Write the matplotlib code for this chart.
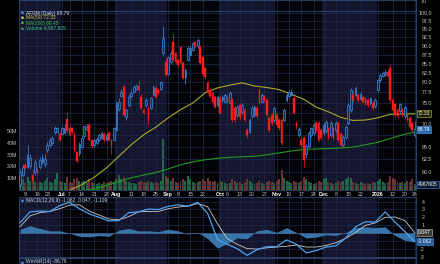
import numpy as np
import pandas as pd
import matplotlib
matplotlib.use('Agg')
import matplotlib.pyplot as plt
from matplotlib.ticker import NullLocator

plt.rcParams['font.family'] = ['Liberation Sans', 'DejaVu Sans']

# trading days on the chart (NYSE holidays removed)
holidays = ['2025-06-19', '2025-07-04', '2025-09-01', '2025-11-27',
            '2025-12-25', '2026-01-01', '2026-01-19']
dates = pd.date_range('2025-06-05', '2026-01-26',
                      freq=pd.offsets.CustomBusinessDay(holidays=holidays))

# daily candles
opens = [57.5, 59.4, 61.4, 61.0, 61.2, 59.4, 60.0, 60.4, 61.0, 62.0,
         61.5, 64.4, 65.4, 65.8, 68.2, 68.2, 67.8, 67.8, 68.0, 71.1,
         69.0, 69.0, 67.8, 64.0, 63.8, 65.0, 67.3, 68.8, 69.8, 66.5,
         65.4, 65.8, 66.6, 67.0, 67.8, 66.6, 68.0, 66.5, 66.5, 68.7,
         73.5, 76.7, 78.8, 71.5, 74.4, 76.7, 77.7, 78.3, 79.0, 76.4,
         73.2, 74.4, 73.8, 73.8, 76.9, 78.5, 78.1, 78.3, 88.0, 85.4,
         82.3, 85.4, 91.1, 88.0, 86.0, 89.6, 85.2, 81.4, 86.0, 87.4,
         88.8, 91.1, 89.8, 89.6, 86.8, 83.7, 79.9, 78.1, 77.4, 76.4,
         74.4, 76.1, 75.6, 75.2, 76.4, 75.0, 75.6, 73.8, 72.1, 74.4,
         72.8, 73.2, 68.7, 68.2, 71.8, 72.1, 73.8, 78.1, 75.2, 76.4,
         75.6, 71.4, 72.1, 70.9, 72.1, 70.9, 70.9, 70.9, 75.6, 76.6,
         76.9, 76.1, 70.2, 67.6, 66.5, 66.9, 63.6, 65.2, 67.6, 68.0,
         70.2, 70.2, 68.7, 68.0, 68.4, 69.0, 67.6, 69.0, 68.7, 70.2,
         67.8, 65.4, 67.1, 70.2, 73.2, 76.9, 76.9, 76.9, 75.9, 76.4,
         76.1, 75.6, 74.9, 75.0, 74.1, 78.1, 80.6, 81.7, 82.2, 82.8,
         83.7, 75.6, 74.6, 73.2, 73.0, 73.2, 71.8, 72.4, 71.4, 70.2,
         67.6]
highs = [60.5, 61.5, 61.8, 65.4, 63.5, 60.5, 62.5, 61.0, 63.0, 63.5,
         63.5, 66.0, 67.0, 67.3, 69.5, 69.3, 68.3, 69.5, 70.0, 72.8,
         69.5, 69.3, 68.2, 64.2, 66.0, 67.3, 69.8, 70.0, 70.3, 66.8,
         67.0, 67.2, 68.0, 68.5, 68.3, 68.0, 68.4, 66.8, 69.3, 75.4,
         76.0, 78.3, 79.5, 73.8, 77.0, 78.0, 79.3, 79.5, 80.6, 77.0,
         73.6, 76.0, 74.0, 76.4, 79.3, 79.0, 78.5, 80.5, 96.0, 86.5,
         87.2, 88.5, 93.5, 88.3, 86.3, 90.0, 85.6, 83.8, 89.8, 89.8,
         91.2, 91.5, 92.2, 90.2, 87.2, 84.2, 80.3, 78.5, 77.8, 76.8,
         76.8, 76.5, 76.8, 77.3, 76.8, 77.8, 76.0, 74.2, 74.4, 74.8,
         74.8, 73.6, 69.0, 71.3, 74.2, 74.4, 74.2, 78.5, 77.3, 76.8,
         76.0, 71.8, 72.5, 74.2, 72.5, 71.3, 71.3, 73.6, 77.3, 78.1,
         78.4, 76.5, 70.6, 69.4, 66.9, 67.3, 65.6, 68.4, 69.4, 70.2,
         70.6, 70.6, 69.1, 70.2, 70.9, 69.4, 70.6, 69.4, 70.6, 70.6,
         68.2, 67.5, 69.8, 74.8, 78.5, 78.0, 79.0, 77.3, 77.6, 76.8,
         76.4, 76.0, 76.4, 75.4, 76.0, 81.0, 82.4, 82.9, 83.4, 83.2,
         84.5, 76.0, 75.0, 73.6, 75.0, 73.6, 74.4, 72.8, 71.8, 70.6,
         70.6]
lows = [57.0, 59.0, 60.5, 60.8, 60.5, 58.0, 59.5, 59.5, 60.5, 61.5,
        61.0, 64.0, 65.0, 65.5, 67.8, 68.0, 66.2, 67.5, 67.8, 68.0,
        67.3, 67.8, 64.0, 61.8, 63.2, 64.8, 67.0, 68.5, 66.2, 64.8,
        65.0, 65.5, 66.2, 66.8, 66.0, 66.2, 66.2, 63.6, 66.2, 68.5,
        73.0, 76.3, 71.8, 71.0, 74.0, 76.3, 77.3, 78.0, 77.6, 73.5,
        72.2, 74.0, 70.0, 73.5, 76.5, 76.0, 77.0, 78.0, 87.5, 81.6,
        82.0, 85.0, 85.6, 85.2, 84.2, 84.8, 80.8, 79.7, 85.6, 87.0,
        88.4, 89.4, 89.4, 84.8, 82.0, 81.0, 77.3, 76.3, 74.8, 73.6,
        74.0, 72.2, 75.2, 74.8, 74.8, 74.6, 70.5, 70.5, 71.7, 71.2,
        72.4, 70.5, 67.0, 67.9, 71.4, 71.7, 71.4, 74.6, 74.8, 75.2,
        71.7, 68.3, 69.8, 70.5, 69.4, 68.6, 65.4, 70.5, 75.2, 76.2,
        76.5, 72.2, 68.9, 67.2, 65.0, 61.0, 62.8, 64.8, 67.2, 67.6,
        68.3, 66.1, 66.5, 67.6, 68.0, 66.7, 67.2, 66.5, 68.3, 66.1,
        65.0, 65.0, 66.7, 69.8, 72.8, 75.2, 76.5, 75.2, 75.5, 74.8,
        74.5, 74.0, 74.5, 73.2, 73.7, 77.7, 80.2, 81.3, 81.8, 81.3,
        75.2, 72.8, 71.7, 71.4, 72.6, 71.7, 71.4, 70.5, 69.0, 68.3,
        67.2]
closes = [60.0, 61.0, 60.8, 63.4, 62.8, 58.5, 62.0, 60.0, 62.4, 62.8,
          62.6, 65.4, 66.5, 66.9, 69.0, 69.0, 66.5, 69.0, 69.2, 68.4,
          67.6, 68.2, 64.4, 62.2, 65.6, 67.0, 69.5, 69.4, 66.5, 65.2,
          66.6, 66.8, 67.6, 68.0, 66.6, 67.6, 66.5, 65.2, 69.0, 74.9,
          75.2, 77.6, 72.1, 73.2, 76.4, 77.4, 78.8, 79.0, 78.0, 73.8,
          72.6, 75.6, 70.9, 76.1, 78.8, 76.4, 77.4, 80.1, 92.3, 82.0,
          86.8, 88.0, 86.0, 85.5, 84.6, 85.2, 81.2, 83.3, 89.3, 89.3,
          90.8, 89.8, 91.7, 85.2, 82.3, 81.4, 77.7, 76.7, 75.2, 74.0,
          76.4, 72.6, 76.4, 76.9, 75.2, 77.4, 70.9, 70.9, 74.0, 71.6,
          74.4, 70.9, 67.6, 70.9, 73.8, 74.0, 71.8, 75.0, 76.9, 75.6,
          72.1, 68.7, 70.2, 73.8, 69.8, 69.0, 65.8, 73.2, 76.9, 77.7,
          77.7, 72.6, 69.3, 68.9, 65.4, 62.4, 65.2, 68.0, 69.0, 69.8,
          68.7, 66.5, 66.9, 69.8, 70.5, 67.1, 70.2, 66.9, 70.2, 66.5,
          65.4, 67.1, 69.4, 74.4, 78.1, 75.6, 78.5, 75.6, 77.2, 75.2,
          74.9, 74.4, 76.1, 73.6, 75.6, 80.6, 82.0, 82.5, 82.8, 81.7,
          75.6, 73.2, 72.1, 71.8, 74.6, 72.1, 74.0, 70.9, 69.4, 68.7,
          68.79]
# volume in millions of shares
volume_m = [12, 9, 6, 11, 8, 9, 7, 6, 7, 6,
            8, 10, 7, 6, 9, 14, 8, 7, 6, 11,
            7, 6, 9, 10, 8, 7, 8, 6, 9, 7,
            6, 5, 6, 5, 7, 6, 7, 8, 7, 9,
            13, 9, 11, 8, 7, 6, 6, 5, 7, 8,
            7, 6, 8, 7, 6, 7, 6, 8, 43, 12,
            10, 8, 10, 7, 6, 8, 9, 8, 12, 9,
            7, 6, 7, 8, 9, 8, 10, 8, 7, 8,
            6, 8, 7, 6, 5, 6, 9, 8, 6, 7,
            5, 7, 9, 8, 6, 5, 6, 8, 6, 5,
            7, 8, 7, 6, 8, 9, 17, 10, 8, 7,
            6, 8, 7, 6, 8, 11, 9, 7, 6, 5,
            6, 8, 7, 9, 10, 7, 6, 5, 6, 8,
            7, 8, 9, 11, 10, 7, 6, 5, 7, 6,
            5, 6, 5, 7, 6, 8, 9, 7, 6, 7,
            12, 10, 9, 7, 6, 7, 6, 8, 7, 9,
            5]

# moving averages, read every 5th session
ma50 = [51.0, 52.3, 53.6, 55.0, 56.6, 57.6, 59.0, 60.8, 63.1, 65.5, 67.6,
        69.3, 71.4, 73.3, 74.9, 77.4, 78.6, 79.3, 79.9, 79.1, 78.7, 78.2,
        77.0, 75.8, 73.9, 72.8, 71.5, 70.8, 70.9, 71.4, 72.2, 72.3, 72.33]
ma200 = [55.0, 55.3, 55.6, 55.9, 56.2, 56.5, 56.8, 57.5, 58.2, 58.9, 59.4,
         59.9, 60.6, 61.4, 62.0, 62.4, 62.7, 62.9, 63.0, 63.1, 63.4, 63.8,
         64.2, 64.5, 64.6, 64.7, 64.8, 65.0, 65.5, 66.0, 66.8, 67.6, 68.2]

# MACD(12,26,9), read every 4th session
macd_line = [1.35, 2.7, 2.8, 2.75, 3.5, 3.9, 3.1, 2.45, 2.0, 1.55, 1.6,
             2.6, 2.7, 3.05, 3.0, 3.4, 3.6, 3.4, 3.9, 2.5, -0.8, -1.4,
             -1.95, -2.8, -2.1, -1.7, -1.7, -0.85, -1.4, -2.5, -2.2, -1.75,
             -1.6, -0.6, 0.8, 1.45, 1.4, 2.7, 1.4, 0.2, -1.06]
macd_signal = [0.85, 2.2, 2.6, 2.75, 3.1, 3.55, 3.6, 2.8, 2.3, 1.8, 1.7,
               2.1, 2.7, 2.75, 2.75, 3.1, 3.3, 3.45, 3.75, 3.35, 1.2, -0.7,
               -1.4, -1.95, -2.0, -1.85, -1.75, -1.65, -1.5, -1.75, -1.75,
               -1.55, -1.2, -0.65, 0.1, 1.0, 1.3, 2.0, 2.05, 1.6, 0.05]
macd_hist = [0.5, 0.95, 0.6, 0.3, 0.3, 0.0, -0.4, -0.45, -0.3, -0.4, 0.4,
             0.6, 0.3, 0.3, 0.2, 0.5, 0.3, -0.1, 0.1, -0.7, -1.9, -1.3,
             -0.6, -0.7, 0.3, 0.5, 0.1, 0.7, 0.1, -0.6, -0.5, -0.2, -0.3,
             0.1, 0.7, 0.8, 0.7, 0.8, -0.3, -0.9, -1.11]

tick_days = ['2025-06-09', '2025-06-16', '2025-06-23', '2025-07-01', '2025-07-07',
             '2025-07-14', '2025-07-21', '2025-07-28', '2025-08-01', '2025-08-11',
             '2025-08-18', '2025-08-25', '2025-09-02', '2025-09-08', '2025-09-15',
             '2025-09-22', '2025-10-01', '2025-10-06', '2025-10-13', '2025-10-20',
             '2025-10-27', '2025-11-03', '2025-11-10', '2025-11-17', '2025-11-24',
             '2025-12-01', '2025-12-08', '2025-12-15', '2025-12-22', '2026-01-02',
             '2026-01-12', '2026-01-20', '2026-01-26']
tick_labels = ['9', '16', '23', 'Jul', '7', '14', '21', '28', 'Aug', '11', '18',
               '25', 'Sep', '8', '15', '22', 'Oct', '6', '13', '20', '27', 'Nov',
               '10', '17', '24', 'Dec', '8', '15', '22', '2026', '12', '20', '26']

NAVY = '#15152e'
DARK = '#040408'
GRID = '#1b2d4a'
EDGE = '#2c4a78'
TXT = '#c4c4c8'
BLUE = '#3d8ee6'
RED = '#ff1c1c'

W, H = 440, 264
L, R = 19, 416
fig = plt.figure(figsize=(W / 100, H / 100), dpi=100, facecolor='black')


def fy(py):
    return 1 - py / H


def panel(top, bottom):
    return fig.add_axes([L / W, 1 - bottom / H, (R - L) / W, (bottom - top) / H])


x = np.arange(len(dates))
month_id = dates.year * 12 + dates.month
starts = np.flatnonzero(np.r_[True, np.diff(month_id) != 0])
bounds = list(starts) + [len(dates)]
tick_pos = [dates.get_loc(pd.Timestamp(d)) for d in tick_days]


def decorate(ax):
    ax.set_facecolor(NAVY)
    ax.set_xlim(-0.5, len(dates) - 0.5)
    for k in range(len(starts)):
        ax.axvspan(bounds[k] - 0.5, bounds[k + 1] - 0.5,
                   color=NAVY if k % 2 == 0 else DARK, lw=0, zorder=0)
    ax.set_xticks(tick_pos)
    ax.grid(axis='x', color=GRID, lw=0.5)
    ax.set_axisbelow(True)
    ax.tick_params(length=0, labelbottom=False, labelleft=False)
    for sp in ax.spines.values():
        sp.set_color(EDGE)
        sp.set_linewidth(0.6)


ax_t = panel(0, 10.5)
ax_v = panel(10.5, 190)
ax_m = panel(197, 257)
ax_b = panel(258, 266)
for ax in (ax_t, ax_v, ax_m, ax_b):
    decorate(ax)
for ax in (ax_t, ax_b):
    ax.set_yticks([])

# volume (left scale)
o, h, l, c = map(np.array, (opens, highs, lows, closes))
up = c >= o
ax_v.bar(x, volume_m, width=0.8, color=np.where(up, '#1f6a44', '#6a3434'),
         lw=0, zorder=2)
ax_v.set_ylim(0, 152)
ax_v.set_yticks([10, 20, 30, 40, 50])
ax_v.set_yticklabels(['10M', '20M', '30M', '40M', '50M'])
ax_v.tick_params(axis='y', labelleft=True, pad=1.4, labelsize=3.8, labelcolor=TXT)
ax_v.tick_params(axis='x', labelbottom=True, pad=1.2, labelsize=3.8, labelcolor=TXT)
ax_v.set_xticklabels(tick_labels)
for t in ax_v.get_xticklabels():
    if not t.get_text().isdigit() or t.get_text() == '2026':
        t.set_fontweight('bold')
        t.set_color('white')

# price (right, log scale); 57.5, 67.5 and 72.5 sit under the value boxes
ax_p = ax_v.twinx()
ax_p.set_yscale('log')
ax_p.set_ylim(56.63, 100.8)
price_ticks = np.arange(57.5, 100.01, 2.5)
hidden = (57.5, 67.5, 72.5)
ax_p.set_yticks(price_ticks)
ax_p.set_yticklabels(['' if v in hidden else f'{v:.1f}' for v in price_ticks])
ax_p.yaxis.set_minor_locator(NullLocator())
ax_p.tick_params(axis='y', length=0, pad=11.5, labelsize=3.8, labelcolor=TXT)
for t in ax_p.get_yticklabels():
    t.set_ha('right')
ax_p.grid(axis='y', color=GRID, lw=0.5)
ax_p.set_axisbelow(True)
for sp in ax_p.spines.values():
    sp.set_visible(False)

ax_p.plot(x[::5], ma50, color='#a8a82c', lw=0.8, zorder=2)
ax_p.plot(x[::5], ma200, color='#1f9a1f', lw=0.8, zorder=2)

colors = np.where(up, BLUE, RED)
ax_p.vlines(x, l, h, colors=colors, lw=0.5, zorder=3)
ax_p.bar(x[up], (c - o)[up], bottom=o[up], width=0.7, color='#12284a',
         edgecolor=BLUE, lw=0.5, zorder=4)
ax_p.bar(x[~up], (o - c)[~up], bottom=c[~up], width=0.7, color=RED,
         edgecolor=RED, lw=0.3, zorder=4)

box = dict(boxstyle='square,pad=0.18', lw=0.5)
ax_p.text(1.005, 72.33, '72.33', transform=ax_p.get_yaxis_transform(),
          fontsize=3.6, color='#e8e8b0', va='center', clip_on=False,
          bbox=dict(box, fc='#26260e', ec='#9a9a30'))
ax_p.text(1.005, 68.79, '68.79', transform=ax_p.get_yaxis_transform(),
          fontsize=3.6, color='white', va='center', clip_on=False,
          bbox=dict(box, fc='#2d6bb0', ec='#4a88cc'))
ax_v.text(1.005, 4.97, '4967605', transform=ax_v.get_yaxis_transform(),
          fontsize=3.6, color='white', va='center', clip_on=False,
          bbox=dict(box, fc='#0c1a30', ec='#3a70b0'))

# MACD panel
mx = x[::4]
ax_m.fill_between(mx, macd_hist, 0, color='#3674aa', lw=0, zorder=2)
ax_m.axhline(0, color='#4a6a90', lw=0.4, zorder=2)
ax_m.plot(mx, macd_signal, color='#c8c8c8', lw=0.6, zorder=3)
ax_m.plot(mx, macd_line, color='#4ba2f2', lw=0.9, zorder=4)
ax_m.set_ylim(-3.01, 4.58)
ax_m.yaxis.tick_right()
ax_m.set_yticks(range(-3, 5))
ax_m.set_yticklabels(['-3', '-2', '', '', '1', '2', '3', '4'])
ax_m.tick_params(axis='y', labelright=True, length=0, pad=6.1,
                 labelsize=3.8, labelcolor=TXT)
for t in ax_m.get_yticklabels():
    t.set_ha('right')
ax_m.grid(axis='y', color=GRID, lw=0.5)
ax_m.text(1.005, 0.047, '0.047', transform=ax_m.get_yaxis_transform(),
          fontsize=3.6, color='white', va='center', clip_on=False,
          bbox=dict(box, fc='#3a3a3a', ec='#a0a0a0'))
ax_m.text(1.005, -1.062, '-1.062', transform=ax_m.get_yaxis_transform(),
          fontsize=3.6, color='white', va='center', clip_on=False,
          bbox=dict(box, fc='#2a5c96', ec='#4a88cc'))

# legends
rows = [('AFRM (Daily) 68.79', '#d8d8e8', BLUE),
        ('MA(50) 72.33', '#c8c840', '#c8c840'),
        ('MA(200) 68.45', '#40b840', '#40b840'),
        ('Volume 4,967,605', '#40c080', '#30a060')]
for k, (s, tc, ic) in enumerate(rows):
    yy = fy(13 + 5 * k)
    fig.text(21 / W, yy, '■', color=ic, fontsize=3.5, va='center')
    fig.text(25.5 / W, yy, s, color=tc, fontsize=3.5, va='center')

fig.text(21 / W, fy(200.5), '■', color=BLUE, fontsize=3.5, va='center')
fig.text(25.5 / W, fy(200.5), 'MACD(12,26,9) -1.062, 0.047, -1.109',
         color='#c8d4e4', fontsize=3.5, va='center')
fig.text(21 / W, fy(262), '■', color=BLUE, fontsize=3.5, va='center')
fig.text(25.5 / W, fy(262), 'Wm%R(14) -86.76', color='#c8d4e4',
         fontsize=3.5, va='center')
fig.text(421 / W, fy(1.5), '10', color=TXT, fontsize=3.8, va='center')

fig.savefig('out.png', dpi=100, facecolor='black')
